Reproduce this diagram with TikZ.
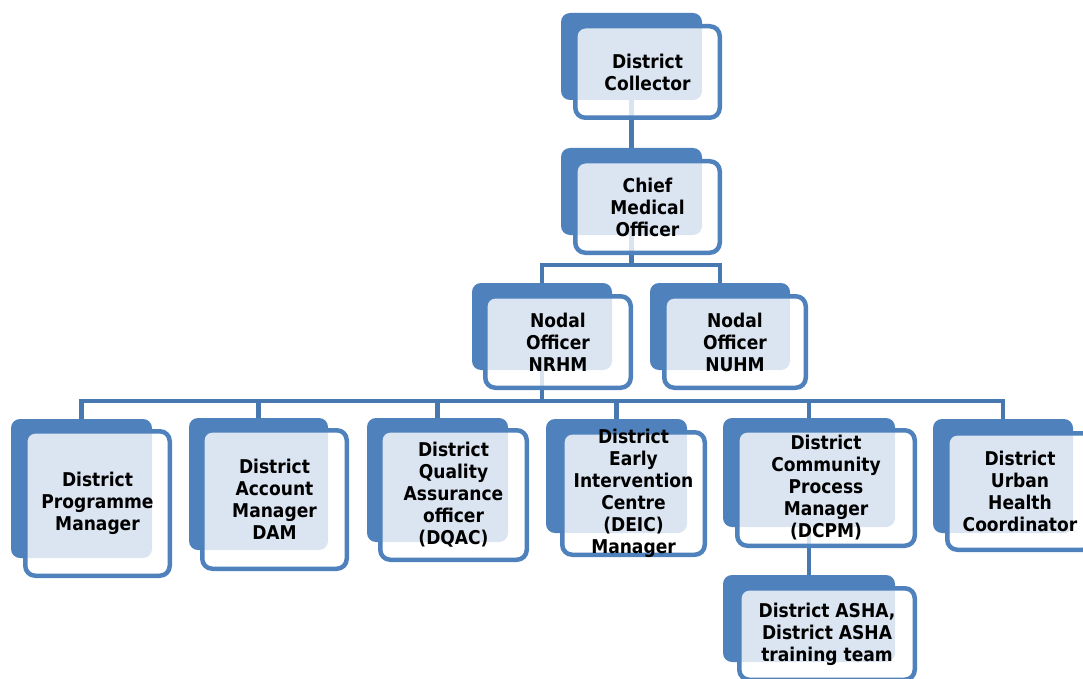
\documentclass[tikz,border=0pt]{standalone}
\usepackage{fontspec}
\setmainfont{DejaVu Sans Condensed}
\pgfdeclarelayer{bg}
\pgfsetlayers{bg,main}
\definecolor{boxblue}{HTML}{4F81BD}
\definecolor{linkblue}{HTML}{4878B0}
\tikzset{
  backbox/.style={fill=boxblue, draw=none, rounded corners=9pt, inner sep=0pt},
  frontbox/.style={fill=white, fill opacity=0.8, draw=boxblue, draw opacity=1,
    line width=4.5pt, rounded corners=10pt, inner sep=0pt},
  label text/.style={font=\fontsize{19}{22}\selectfont\bfseries, align=center, inner sep=0pt},
  conn/.style={draw=linkblue, line width=4.5pt, line join=miter},
}
\begin{document}
\begin{tikzpicture}[x=1pt,y=-1pt]
\useasboundingbox (0,0) rectangle (1083,679);
\clip (0,0) rectangle (1083,679);

% District Collector
\node[backbox, minimum width=141pt, minimum height=87pt] (dc) at (631.5,56.5) {};
\node[frontbox, minimum width=144.5pt, minimum height=91.5pt] (dcf) at (647.5,72) {};
\node[label text] (dct) at (647.5,72) {District\\Collector};

% Chief Medical Officer
\node[backbox, minimum width=141pt, minimum height=87pt] (cmo) at (631.5,191.5) {};
\node[frontbox, minimum width=144.5pt, minimum height=91.5pt] (cmof) at (647.5,207) {};
\node[label text] (cmot) at (647.5,207) {Chief\\Medical\\Officer};

% Nodal officers
\node[backbox, minimum width=140pt, minimum height=87pt] (nrhm) at (542,326.5) {};
\node[frontbox, minimum width=145.5pt, minimum height=91.5pt] (nrhmf) at (558,342) {};
\node[label text] (nrhmt) at (558,342) {Nodal\\Officer\\NRHM};

\node[backbox, minimum width=140pt, minimum height=87pt] (nuhm) at (720,326.5) {};
\node[frontbox, minimum width=141.5pt, minimum height=91.5pt] (nuhmf) at (735,342) {};
\node[label text] (nuhmt) at (735,342) {Nodal\\Officer\\NUHM};

% District level managers
\node[backbox, minimum width=141pt, minimum height=139pt] (dpm) at (81.5,488.5) {};
\node[frontbox, minimum width=144.5pt, minimum height=144.5pt] (dpmf) at (97.5,503.5) {};
\node[label text] (dpmt) at (97.5,503.5) {District\\Programme\\Manager};

\node[backbox, minimum width=139pt, minimum height=132pt] (dam) at (258.5,484) {};
\node[frontbox, minimum width=144.5pt, minimum height=138.5pt] (damf) at (274.5,499.5) {};
\node[label text] (damt) at (274.5,499.5) {District\\Account\\Manager\\DAM};

\node[backbox, minimum width=141pt, minimum height=124pt] (dqac) at (437.5,480) {};
\node[frontbox, minimum width=146.5pt, minimum height=129.5pt] (dqacf) at (453.5,495) {};
\node[label text] (dqact) at (453.5,495) {District\\Quality\\Assurance\\officer\\(DQAC)};

\node[backbox, minimum width=141pt, minimum height=114pt] (deic) at (616.5,476) {};
\node[frontbox, minimum width=142.5pt, minimum height=122.5pt] (deicf) at (633.5,493.5) {};
\node[label text] (deict) at (633.5,493.5) {District\\Early\\Intervention\\Centre\\(DEIC)\\Manager};

\node[backbox, minimum width=172pt, minimum height=109pt] (dcpm) at (809,472.5) {};
\node[frontbox, minimum width=177.5pt, minimum height=115.5pt] (dcpmf) at (826,488) {};
\node[label text] (dcpmt) at (826,488) {District\\Community\\Process\\Manager\\(DCPM)};

\node[backbox, minimum width=140pt, minimum height=114pt] (duhc) at (1003,476) {};
\node[frontbox, minimum width=145.5pt, minimum height=116.5pt] (duhcf) at (1020,491.5) {};
\node[label text] (duhct) at (1020,491.5) {District\\Urban\\Health\\Coordinator};

% ASHA team
\node[backbox, minimum width=172pt, minimum height=87pt] (asha) at (809,618.5) {};
\node[frontbox, minimum width=175.5pt, minimum height=91.5pt] (ashaf) at (827,634) {};
\node[label text] (ashat) at (827,634) {District ASHA,\\District ASHA\\training team};

% Connectors, drawn behind the boxes
\coordinate (busA) at (631.5,265);
\coordinate (busB) at (542,401);
\begin{pgfonlayer}{bg}
\draw[conn] (dc.south) -- (cmo.north);
\draw[conn] (cmo.south) -- (cmo.south |- busA);
\draw[conn] (nrhm.north) |- (busA) -| (nuhm.north);
\draw[conn] (nrhm.south) -- (nrhm.south |- busB);
\draw[conn] (dpm.north) |- (busB) -| (duhc.north);
\draw[conn] (dam.north) -- (dam.north |- busB);
\draw[conn] (dqac.north) -- (dqac.north |- busB);
\draw[conn] (deic.north) -- (deic.north |- busB);
\draw[conn] (dcpm.north) -- (dcpm.north |- busB);
\draw[conn] (dcpm.south) -- (asha.north);
\end{pgfonlayer}
\end{tikzpicture}
\end{document}
